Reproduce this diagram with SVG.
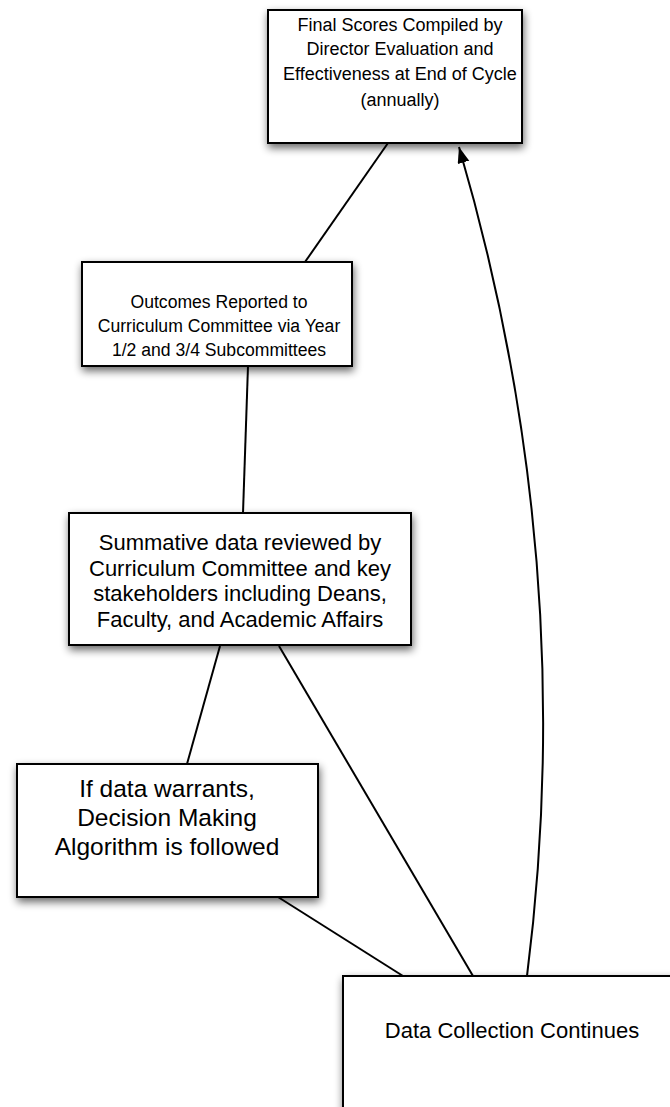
<svg xmlns="http://www.w3.org/2000/svg" width="670" height="1107" viewBox="0 0 670 1107">
  <style>
    .box { fill: #ffffff; stroke: #000000; stroke-width: 2; }
    .lbl { font-family: "Liberation Sans", Arial, Helvetica, sans-serif; font-size: 22px; fill: #000000; text-anchor: middle; }
    .s1 { font-size: 18px; }
    .s2 { font-size: 17.6px; }
    .big { font-size: 24.5px; }
    .conn { fill: none; stroke: #000000; stroke-width: 2; }
  </style>
  <defs>
    <filter id="shadow" x="-20%" y="-20%" width="140%" height="140%">
      <feGaussianBlur in="SourceAlpha" stdDeviation="4"/>
      <feOffset dx="1" dy="4" result="b"/>
      <feComponentTransfer><feFuncA type="linear" slope="0.6"/></feComponentTransfer>
      <feMerge><feMergeNode/><feMergeNode in="SourceGraphic"/></feMerge>
    </filter>
    <marker id="arrow" markerUnits="userSpaceOnUse" markerWidth="17" markerHeight="13" refX="16" refY="6" orient="auto">
      <path d="M0,0 L16,6 L0,12 z" fill="#000000"/>
    </marker>
  </defs>

  <g id="connectors">
    <line class="conn" x1="388" y1="143" x2="305" y2="262"/>
    <line class="conn" x1="248" y1="366" x2="243" y2="513"/>
    <line class="conn" x1="220" y1="646" x2="187" y2="764"/>
    <line class="conn" x1="279" y1="646" x2="473" y2="976"/>
    <line class="conn" x1="278" y1="897" x2="403" y2="976"/>
    <path class="conn" d="M527,976 Q580,560 459,147" marker-end="url(#arrow)"/>
  </g>

  <g id="node-final-scores">
    <rect class="box" x="268" y="10" width="254" height="133" filter="url(#shadow)"/>
    <text class="lbl s1" x="400" y="31">Final Scores Compiled by</text>
    <text class="lbl s1" x="400" y="55">Director Evaluation and</text>
    <text class="lbl s1" x="400" y="80">Effectiveness at End of Cycle</text>
    <text class="lbl s1" x="400" y="106">(annually)</text>
  </g>

  <g id="node-outcomes">
    <rect class="box" x="82" y="262" width="270" height="104" filter="url(#shadow)"/>
    <text class="lbl s2" x="219" y="308">Outcomes Reported to</text>
    <text class="lbl s2" x="219" y="332">Curriculum Committee via Year</text>
    <text class="lbl s2" x="219" y="356">1/2 and 3/4 Subcommittees</text>
  </g>

  <g id="node-summative">
    <rect class="box" x="69" y="513" width="342" height="132" filter="url(#shadow)"/>
    <text class="lbl" x="240" y="550">Summative data reviewed by</text>
    <text class="lbl" x="240" y="576">Curriculum Committee and key</text>
    <text class="lbl" x="240" y="601">stakeholders including Deans,</text>
    <text class="lbl" x="240" y="627">Faculty, and Academic Affairs</text>
  </g>

  <g id="node-decision">
    <rect class="box" x="17" y="764" width="301" height="133" filter="url(#shadow)"/>
    <text class="lbl big" x="167" y="797">If data warrants,</text>
    <text class="lbl big" x="167" y="826">Decision Making</text>
    <text class="lbl big" x="167" y="855">Algorithm is followed</text>
  </g>

  <g id="node-data-collection">
    <rect class="box" x="343" y="976" width="340" height="150" filter="url(#shadow)"/>
    <text class="lbl" x="512" y="1038">Data Collection Continues</text>
  </g>
</svg>
